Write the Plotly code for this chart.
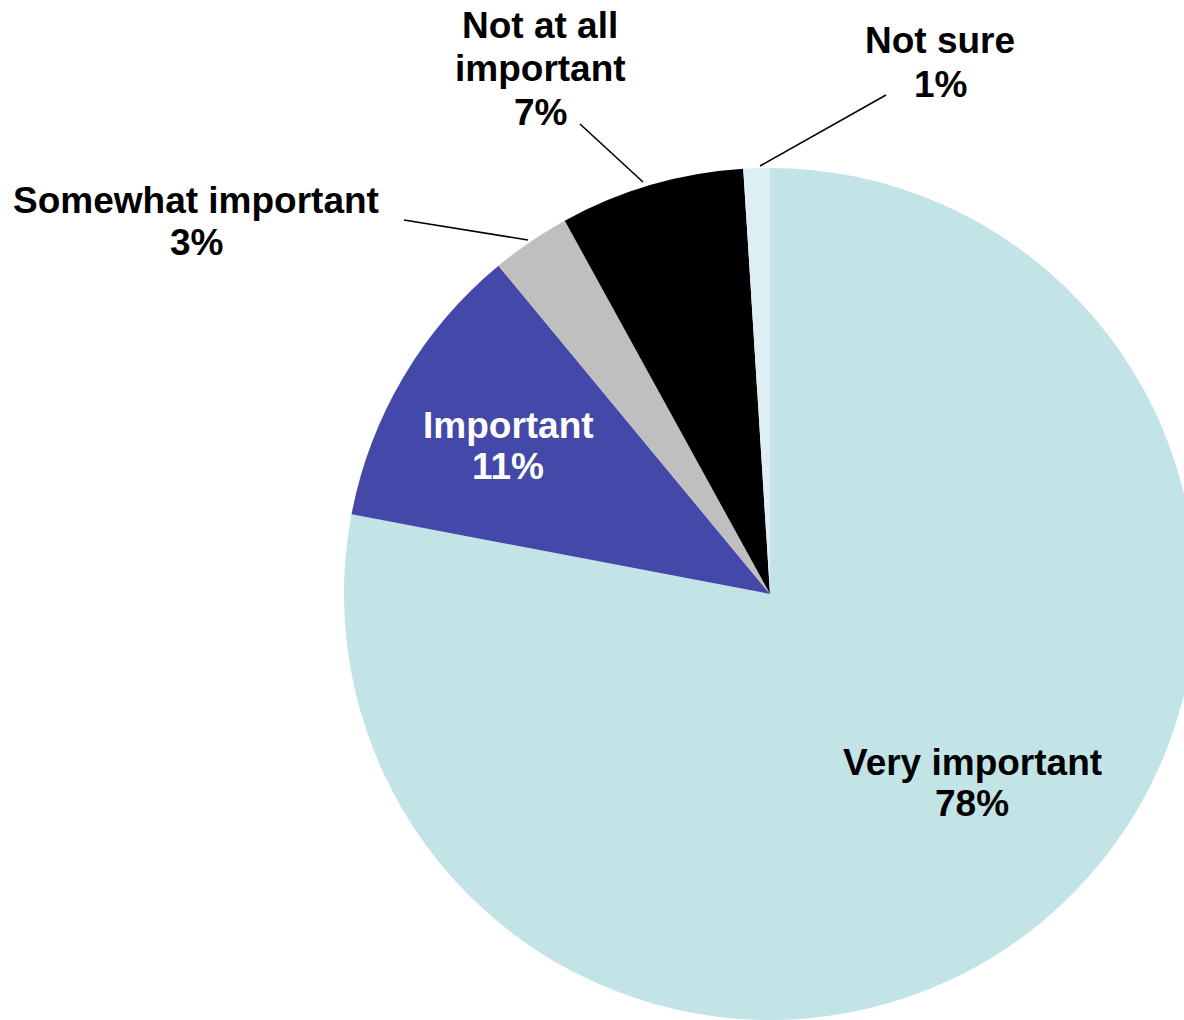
import plotly.graph_objects as go

# ---- data ----
categories = ["Very important", "Important", "Somewhat important", "Not at all important", "Not sure"]
values = [78, 11, 3, 7, 1]
colors = ["#C3E4E7", "#4449A9", "#BFBFBF", "#000000", "#DDEFF3"]

W, H = 1200, 1024
FONT = "Liberation Sans, Arial, sans-serif"
FS = 37

def px(x):
    return x / W

def py(y):
    return 1 - y / H

fig = go.Figure(go.Pie(
    labels=categories,
    values=values,
    sort=False,
    direction="clockwise",
    rotation=0,
    marker=dict(colors=colors, line=dict(width=0)),
    textinfo="none",
    hoverinfo="label+percent",
    showlegend=False,
    domain=dict(x=[px(344), px(1196)], y=[py(1020), py(168)]),
))

# label layout: (lines, centre x, first-line y, line step, colour)
label_pos = {
    "Very important": ([categories[0], f"{values[0]}%"], 972, 762, 41, "black"),
    "Important": ([categories[1], f"{values[1]}%"], 508, 425, 41, "white"),
    "Somewhat important": ([categories[2], f"{values[2]}%"], 196, 200, 42, "black"),
    "Not at all important": (["Not at all", "important", f"{values[3]}%"], 540, 25, 43.5, "black"),
    "Not sure": ([categories[4], f"{values[4]}%"], 940, 40, 44, "black"),
}

annotations = []
for cat, (lines, cx, y0, step, col) in label_pos.items():
    for i, line in enumerate(lines):
        annotations.append(dict(
            x=px(cx), y=py(y0 + i * step), xref="paper", yref="paper",
            text=f"<b>{line}</b>", showarrow=False,
            xanchor="center", yanchor="middle",
            font=dict(family=FONT, size=FS, color=col),
        ))

leaders = [((404, 220), (528, 240)), ((580, 124), (643, 182)), ((886, 95), (760, 166))]
shapes = [dict(type="line", xref="paper", yref="paper",
               x0=px(a[0]), y0=py(a[1]), x1=px(b[0]), y1=py(b[1]),
               line=dict(color="black", width=1.6)) for a, b in leaders]

fig.update_layout(
    width=W, height=H,
    margin=dict(l=0, r=0, t=0, b=0),
    paper_bgcolor="white", plot_bgcolor="white",
    annotations=annotations, shapes=shapes,
)

fig.write_html(
    "out.html",
    config={"displayModeBar": False},
    post_script="document.body.style.margin='0';document.body.style.overflow='hidden';document.documentElement.style.overflow='hidden';",
)
